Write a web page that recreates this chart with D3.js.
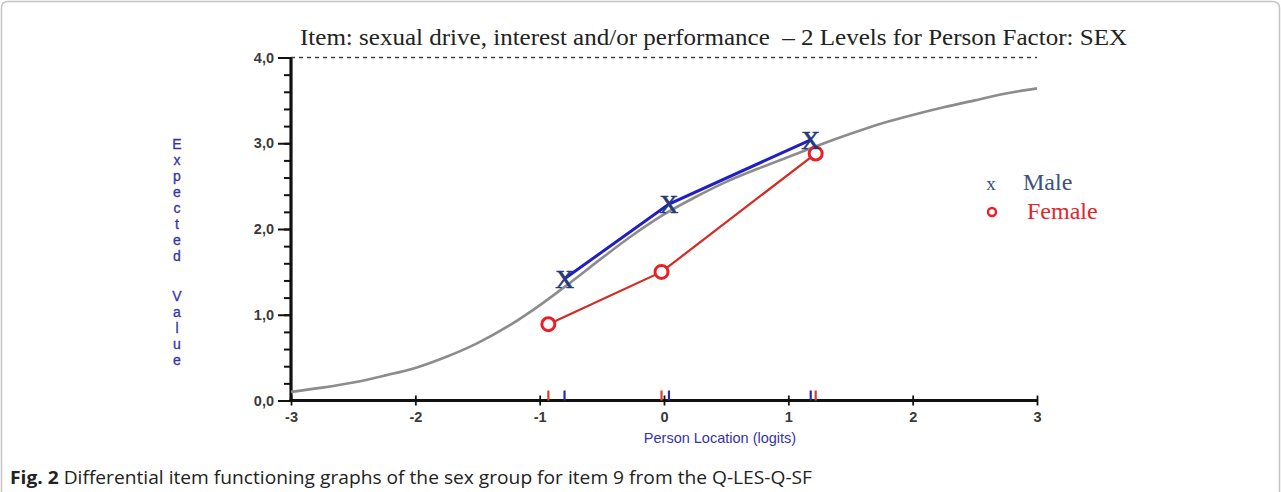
<!DOCTYPE html>
<html>
<head>
<meta charset="utf-8">
<script src="https://cdn.jsdelivr.net/npm/d3@7/dist/d3.min.js"></script>
<style>
  html, body { margin: 0; padding: 0; background: #fff; }
  svg { display: block; }
</style>
</head>
<body>
<svg id="chart" width="1281" height="492"></svg>
<script>
// Expected-value curve of the item (theoretical ICC), read at quarter-logit steps
const iccLogits   = [-3, -2.75, -2.5, -2.25, -2, -1.75, -1.5, -1.25, -1, -0.75, -0.5, -0.25, 0,
                     0.25, 0.5, 0.75, 1, 1.25, 1.5, 1.75, 2, 2.25, 2.5, 2.75, 3];
const iccExpected = [0.10, 0.15, 0.21, 0.29, 0.38, 0.51, 0.67, 0.87, 1.11, 1.38, 1.66, 1.93, 2.17,
                     2.37, 2.55, 2.70, 2.84, 2.98, 3.11, 3.23, 3.33, 3.42, 3.50, 3.58, 3.64];

// Observed class-interval means per group
const maleLocation   = [-0.80, 0.04, 1.18];
const maleExpected   = [1.42, 2.29, 3.04];
const femaleLocation = [-0.93, -0.02, 1.22];
const femaleExpected = [0.89, 1.50, 2.88];

const xTickValues = [-3, -2, -1, 0, 1, 2, 3];
const yTickValues = [0, 1, 2, 3, 4];

const titleText   = "Item: sexual drive, interest and/or performance  \u2013 2 Levels for Person Factor: SEX";
const xLabelText  = "Person Location (logits)";
const yLabelWords = ["Expected", "Value"];
const legendNames = ["Male", "Female"];

const svg = d3.select("#chart");

// frame around the figure
svg.append("path")
  .attr("d", "M1.5,492 L1.5,8 Q1.5,1.5 8,1.5 L1272,1.5 Q1279.5,1.5 1279.5,8 L1279.5,492")
  .attr("fill", "none").attr("stroke", "#c4c4c4").attr("stroke-width", 1.5);

const x = d3.scaleLinear().domain([-3, 3]).range([291, 1037]);
const y = d3.scaleLinear().domain([0, 4]).range([400.5, 57.5]);

// dashed ceiling at the maximum score
svg.append("line")
  .attr("x1", x(-3)).attr("x2", x(3)).attr("y1", y(4)).attr("y2", y(4))
  .attr("stroke", "#444").attr("stroke-width", 1.3).attr("stroke-dasharray", "4,4");

// y axis: minor ticks every 0.2, major every 1
const yMinor = svg.append("g").attr("transform", `translate(${x(-3)},0)`)
  .call(d3.axisLeft(y).tickValues(y.ticks(20)).tickSize(7).tickFormat(""));
yMinor.select(".domain").remove();
yMinor.selectAll(".tick line").attr("stroke", "#111").attr("stroke-width", 2);

const yAxis = svg.append("g").attr("transform", `translate(${x(-3)},0)`)
  .call(d3.axisLeft(y).tickValues(yTickValues).tickSize(13).tickPadding(4)
    .tickFormat(d => d.toFixed(1).replace(".", ",")));
yAxis.select(".domain").attr("stroke", "#111").attr("stroke-width", 3.2)
  .attr("d", `M0,${y(0) + 1.5}V${y(4)}`);
yAxis.selectAll(".tick line").attr("stroke", "#111").attr("stroke-width", 2);
yAxis.selectAll(".tick text")
  .attr("font-family", "'Liberation Sans', Arial, sans-serif")
  .attr("font-size", 14.5).attr("font-weight", "bold").attr("fill", "#3a3a3a");

// x axis with cross ticks
const xAxis = svg.append("g").attr("transform", `translate(0,${y(0)})`)
  .call(d3.axisBottom(x).tickValues(xTickValues).tickSize(5).tickPadding(6).tickFormat(d => String(d)));
xAxis.select(".domain").attr("stroke", "#111").attr("stroke-width", 3.2)
  .attr("d", `M${x(-3) - 1.5},0H${x(3)}`);
xAxis.selectAll(".tick line").attr("y1", -5).attr("y2", 5)
  .attr("stroke", "#111").attr("stroke-width", 1.8);
xAxis.selectAll(".tick text")
  .attr("font-family", "'Liberation Sans', Arial, sans-serif")
  .attr("font-size", 14.5).attr("font-weight", "bold").attr("fill", "#3a3a3a");

// axis titles
svg.append("text")
  .attr("x", 720).attr("y", 443).attr("text-anchor", "middle")
  .attr("font-family", "'Liberation Sans', Arial, sans-serif")
  .attr("font-size", 14.5).attr("fill", "#3434a8").text(xLabelText);

const yLabel = svg.append("g")
  .attr("font-family", "'Liberation Sans', Arial, sans-serif")
  .attr("font-size", 14).attr("fill", "#3434a8").attr("text-anchor", "middle")
  .attr("stroke", "#3434a8").attr("stroke-width", 0.3);
const yLabelStarts = [144, 296];
yLabelWords.forEach((word, wi) => {
  Array.from(word).forEach((ch, i) => {
    yLabel.append("text").attr("x", 177).attr("y", yLabelStarts[wi] + i * 16)
      .attr("dominant-baseline", "central").text(ch);
  });
});

// theoretical expected-value curve
svg.append("path")
  .datum(iccLogits.map((l, i) => [l, iccExpected[i]]))
  .attr("fill", "none").attr("stroke", "#8c8c8c").attr("stroke-width", 2.6)
  .attr("d", d3.line().x(d => x(d[0])).y(d => y(d[1])).curve(d3.curveMonotoneX));

// group location markers along the x axis
const rug = svg.append("g");
femaleLocation.forEach(l => rug.append("line")
  .attr("x1", x(l)).attr("x2", x(l)).attr("y1", y(0) - 10).attr("y2", y(0))
  .attr("stroke", "#e03a2a").attr("stroke-width", 2.2));
maleLocation.forEach(l => rug.append("line")
  .attr("x1", x(l)).attr("x2", x(l)).attr("y1", y(0) - 10).attr("y2", y(0))
  .attr("stroke", "#2b2ba8").attr("stroke-width", 2.2));

// female observed means
const femalePts = femaleLocation.map((l, i) => [l, femaleExpected[i]]);
svg.append("path").datum(femalePts)
  .attr("fill", "none").attr("stroke", "#d42a22").attr("stroke-width", 2.2)
  .attr("d", d3.line().x(d => x(d[0])).y(d => y(d[1])));
svg.selectAll(".female-pt").data(femalePts).join("circle")
  .attr("class", "female-pt")
  .attr("cx", d => x(d[0])).attr("cy", d => y(d[1])).attr("r", 6.5)
  .attr("fill", "#fff").attr("stroke", "#ee1c24").attr("stroke-width", 3);

// male observed means
const malePts = maleLocation.map((l, i) => [l, maleExpected[i]]);
svg.append("path").datum(malePts)
  .attr("fill", "none").attr("stroke", "#1f1fc4").attr("stroke-width", 3)
  .attr("d", d3.line().x(d => x(d[0])).y(d => y(d[1])));
svg.selectAll(".male-pt").data(malePts).join("text")
  .attr("class", "male-pt")
  .attr("x", d => x(d[0])).attr("y", d => y(d[1]) + 9)
  .attr("text-anchor", "middle")
  .attr("font-family", "'Liberation Serif', 'DejaVu Serif', serif")
  .attr("font-size", 26).attr("fill", "#24387a")
  .attr("stroke", "#24387a").attr("stroke-width", 0.6).text("X");

// legend
const legend = svg.append("g").attr("font-family", "'Liberation Serif', 'DejaVu Serif', serif");
legend.append("text").attr("x", 991).attr("y", 190).attr("text-anchor", "middle")
  .attr("font-size", 19).attr("fill", "#3d4d80").text("x");
legend.append("text").attr("x", 1023).attr("y", 190)
  .attr("font-size", 24).attr("fill", "#3d5080").text(legendNames[0]);
legend.append("circle").attr("cx", 992).attr("cy", 212).attr("r", 4)
  .attr("fill", "#fff").attr("stroke", "#ee1c24").attr("stroke-width", 2.4);
legend.append("text").attr("x", 1027).attr("y", 219)
  .attr("font-size", 24).attr("fill", "#e3262a").text(legendNames[1]);

// title
svg.append("text")
  .attr("x", 300).attr("y", 45)
  .attr("font-family", "'Liberation Serif', 'DejaVu Serif', serif")
  .attr("font-size", 22.5).attr("fill", "#222")
  .attr("textLength", 827).attr("lengthAdjust", "spacingAndGlyphs")
  .style("white-space", "pre")
  .text(titleText);

// caption
const cap = svg.append("text").attr("x", 10).attr("y", 484)
  .attr("font-family", "'Open Sans', 'Noto Sans', sans-serif")
  .attr("font-size", 18).attr("fill", "#222")
  .attr("textLength", 802).attr("lengthAdjust", "spacingAndGlyphs");
cap.append("tspan").attr("font-weight", "bold").text("Fig. 2");
cap.append("tspan").text(" Differential item functioning graphs of the sex group for item 9 from the Q-LES-Q-SF");
</script>
</body>
</html>
